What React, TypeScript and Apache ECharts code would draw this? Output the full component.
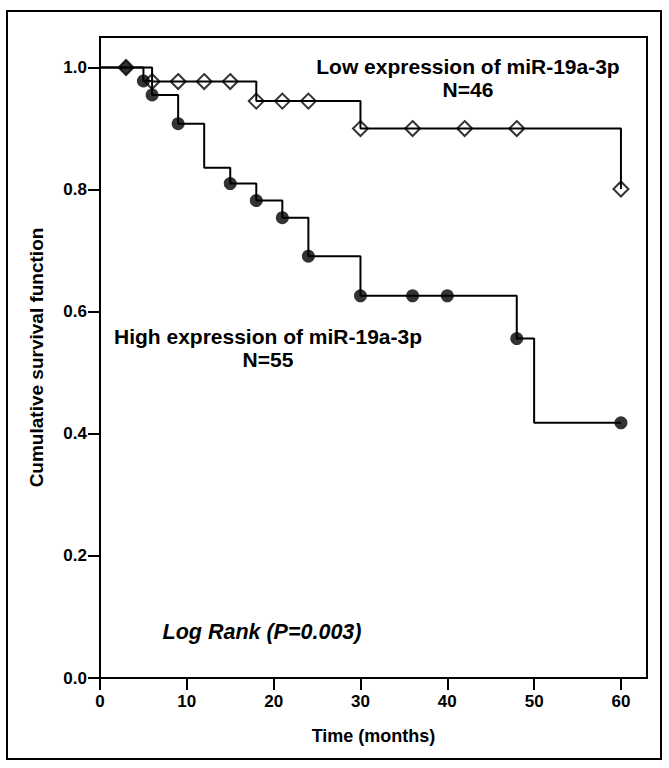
import React, { useEffect, useRef } from "react";
import * as echarts from "echarts";

// Kaplan–Meier step curves (time in months, cumulative survival)
const lowStepTimes = [0, 6, 18, 30, 60];
const lowStepSurvival = [1.0, 0.977, 0.945, 0.9, 0.801];
const lowMarkTimes = [3, 6, 9, 12, 15, 18, 21, 24, 30, 36, 42, 48, 60];
const lowMarkSurvival = [1.0, 0.977, 0.977, 0.977, 0.977, 0.945, 0.945, 0.945, 0.9, 0.9, 0.9, 0.9, 0.801];

const highStepTimes = [0, 5, 6, 9, 12, 15, 18, 21, 24, 30, 48, 50, 60];
const highStepSurvival = [1.0, 0.978, 0.955, 0.908, 0.836, 0.81, 0.782, 0.754, 0.691, 0.626, 0.556, 0.418, 0.418];
const highMarkTimes = [5, 6, 9, 15, 18, 21, 24, 30, 36, 40, 48, 60];
const highMarkSurvival = [0.978, 0.955, 0.908, 0.81, 0.782, 0.754, 0.691, 0.626, 0.626, 0.626, 0.556, 0.418];

const xTicks = [0, 10, 20, 30, 40, 50, 60];
const yTicks = [0, 0.2, 0.4, 0.6, 0.8, 1.0];

const lowLabel = ["Low expression of miR-19a-3p", "N=46"];
const highLabel = ["High expression of miR-19a-3p", "N=55"];
const pLabel = "Log Rank (P=0.003)";
const xTitle = "Time (months)";
const yTitle = "Cumulative survival function";

const FONT = "'Liberation Sans', Arial, sans-serif";

export default function App() {
  const ref = useRef<HTMLDivElement>(null);
  useEffect(() => {
    document.body.style.margin = "0";
    if (!ref.current) return;
    const chart = echarts.init(ref.current, null, { renderer: "svg" });
    const zip = (a: number[], b: number[]) => a.map((v, i) => [v, b[i]]);
    const axisLine = { show: true, lineStyle: { color: "#000", width: 2 } };
    const note = (text: string, x: number, y: number, size = 21, italic = false) => ({
      type: "text",
      x,
      y,
      style: {
        text,
        fill: "#000",
        font: `${italic ? "italic " : ""}bold ${size}px ${FONT}`,
        textAlign: "center",
        textVerticalAlign: "middle",
      },
    });
    chart.setOption({
      animation: false,
      backgroundColor: "#fff",
      grid: {
        left: 100,
        right: 22,
        top: 37,
        bottom: 90,
        show: true,
        borderColor: "#000",
        borderWidth: 2,
        backgroundColor: "transparent",
      },
      xAxis: {
        type: "value",
        min: 0,
        max: 63,
        axisLine,
        splitLine: { show: false },
        axisTick: { show: true, length: 12, lineStyle: { color: "#000", width: 2 }, customValues: xTicks },
        axisLabel: {
          customValues: xTicks,
          margin: 15,
          color: "#000",
          fontFamily: FONT,
          fontWeight: "bold",
          fontSize: 17,
        },
        name: xTitle,
        nameLocation: "middle",
        nameGap: 49,
        nameTextStyle: { color: "#000", fontFamily: FONT, fontWeight: "bold", fontSize: 18 },
      },
      yAxis: {
        type: "value",
        min: 0,
        max: 1.05,
        axisLine,
        splitLine: { show: false },
        axisTick: { show: true, length: 12, lineStyle: { color: "#000", width: 2 }, customValues: yTicks },
        axisLabel: {
          customValues: yTicks,
          margin: 13,
          color: "#000",
          fontFamily: FONT,
          fontWeight: "bold",
          fontSize: 17,
          formatter: (v: number) => v.toFixed(1),
        },
        name: yTitle,
        nameLocation: "middle",
        nameGap: 54,
        nameRotate: 90,
        nameTextStyle: { color: "#000", fontFamily: FONT, fontWeight: "bold", fontSize: 19 },
      },
      series: [
        {
          type: "scatter",
          name: "high marks",
          data: zip(highMarkTimes, highMarkSurvival),
          symbol: "circle",
          symbolSize: 13,
          itemStyle: { color: "#000" },
          z: 3,
        },
        {
          type: "scatter",
          name: "low marks",
          data: zip(lowMarkTimes, lowMarkSurvival).map((p, i) =>
            i === 0 ? { value: p, itemStyle: { color: "#000" } } : { value: p }
          ),
          symbol: "diamond",
          symbolSize: 15,
          itemStyle: { color: "rgba(255,255,255,0)", borderColor: "#000", borderWidth: 2 },
          z: 3,
        },
        {
          type: "line",
          name: "high",
          data: zip(highStepTimes, highStepSurvival),
          step: "end",
          showSymbol: false,
          lineStyle: { color: "#000", width: 2 },
          z: 4,
        },
        {
          type: "line",
          name: "low",
          data: zip(lowStepTimes, lowStepSurvival),
          step: "end",
          showSymbol: false,
          lineStyle: { color: "#000", width: 2 },
          z: 4,
        },
      ],
      graphic: [
        {
          type: "rect",
          shape: { x: 7, y: 11, width: 654, height: 748 },
          style: { fill: "none", stroke: "#000", lineWidth: 2 },
          silent: true,
        },
        note(lowLabel[0], 468, 66),
        note(lowLabel[1], 468, 89),
        note(highLabel[0], 268, 336),
        note(highLabel[1], 268, 359),
        note(pLabel, 262, 632, 21.5, true),
      ],
    });
    return () => chart.dispose();
  }, []);
  return <div ref={ref} style={{ width: 669, height: 768 }} />;
}
